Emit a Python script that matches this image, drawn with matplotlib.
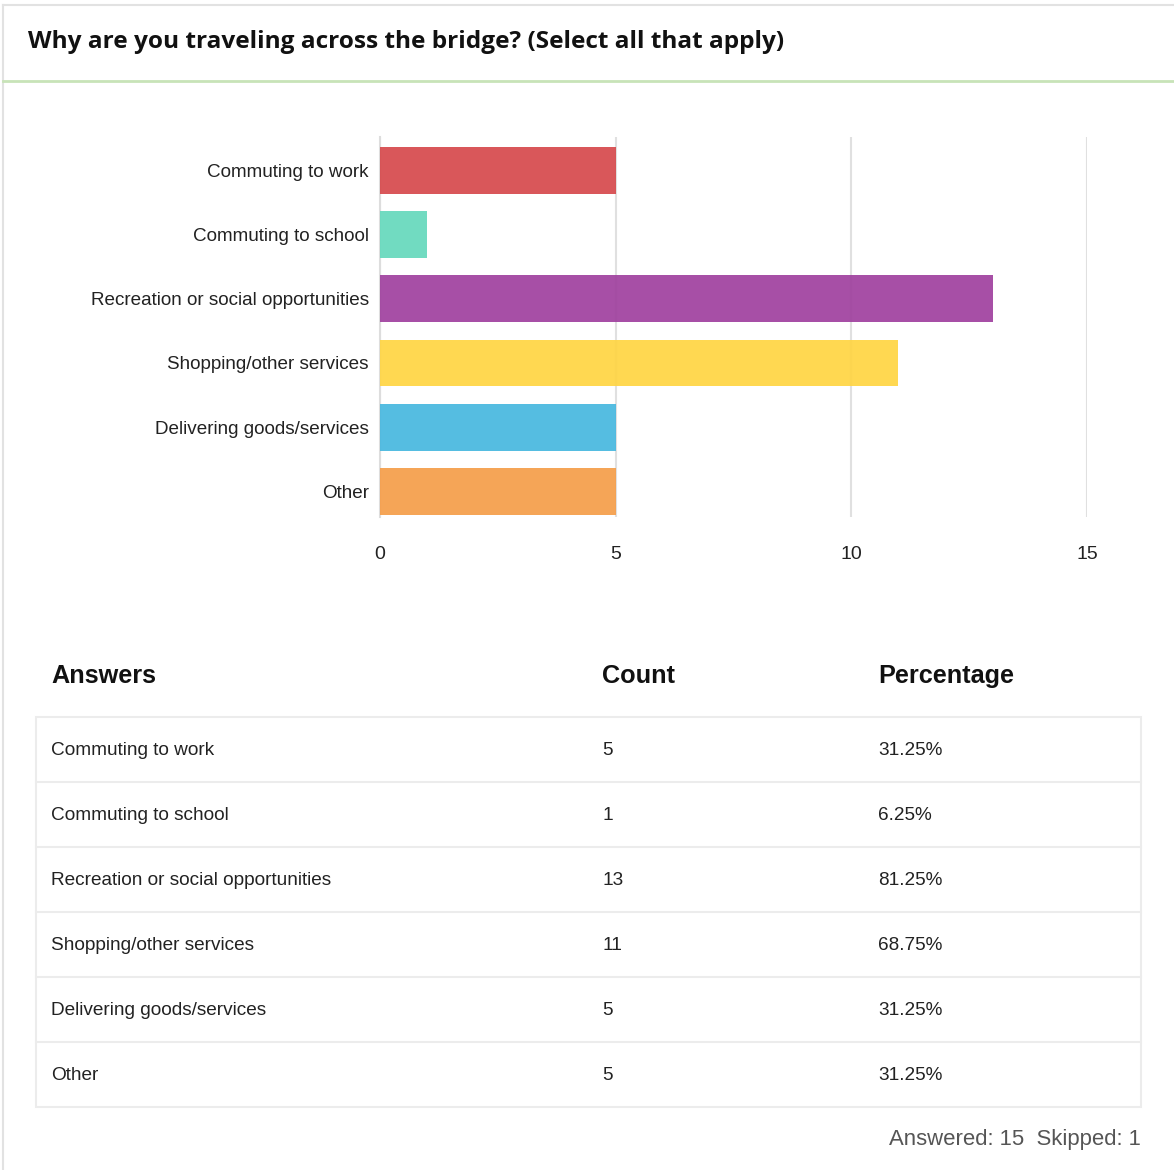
import matplotlib.pyplot as plt
from matplotlib.patches import Rectangle
from matplotlib.lines import Line2D

# data
answers = ['Commuting to work', 'Commuting to school', 'Recreation or social opportunities',
           'Shopping/other services', 'Delivering goods/services', 'Other']
counts = [5, 1, 13, 11, 5, 5]
percentages = ['31.25%', '6.25%', '81.25%', '68.75%', '31.25%', '31.25%']
colors = ['#d64a4d', '#66d9bd', '#a0429f', '#ffd544', '#48b8df', '#f59e4a']
x_ticks = [0, 5, 10, 15]
title = 'Why are you traveling across the bridge? (Select all that apply)'
answered, skipped = 15, 1

W, H = 1174, 1170
fig = plt.figure(figsize=(W / 100, H / 100), dpi=100)
fig.patch.set_facecolor('white')


def fx(px):
    return px / W


def fy(py):
    return 1 - py / H


# page frame and title header
fig.add_artist(Line2D([fx(3), fx(1174)], [fy(5), fy(5)], color='#e2e2e2', lw=1.5))
fig.add_artist(Line2D([fx(3), fx(3)], [fy(5), fy(1170)], color='#e2e2e2', lw=1.5))
fig.add_artist(Line2D([fx(3), fx(1174)], [fy(81), fy(81)], color='#c8e3b8', lw=2))
fig.text(fx(28), fy(42), title, fontsize=17.6, fontweight='bold', family='Open Sans',
         va='center', ha='left', color='#111111')

# bar chart
ax = fig.add_axes([fx(380), fy(517), fx(1087) - fx(380), (517 - 137) / H])
ypos = list(range(len(answers)))
ax.barh(ypos, counts, height=0.73, color=colors, alpha=0.93, zorder=3)
ax.set_xlim(0, 15)
ax.set_ylim(5.40, -0.52)
ax.set_xticks(x_ticks)
ax.set_yticks(ypos)
ax.set_yticklabels(answers, fontsize=13.6, family='Liberation Sans', color='#222222')
ax.set_xticklabels([str(t) for t in x_ticks], fontsize=14, family='Liberation Sans', color='#222222')
ax.tick_params(length=0, axis='y', pad=8)
ax.tick_params(length=0, axis='x', pad=21)
ax.grid(axis='x', color='#e0e0e0', lw=1.5, zorder=1)
ax.set_axisbelow(True)
for s in ['top', 'right', 'bottom']:
    ax.spines[s].set_visible(False)
ax.spines['left'].set_color('#dddddd')
ax.spines['left'].set_linewidth(1.5)

# table
hdr_y = fy(676)
hdr_kw = dict(fontsize=18.2, fontweight='bold', family='Liberation Sans', va='center', color='#111111')
fig.text(fx(51), hdr_y, 'Answers', **hdr_kw)
fig.text(fx(602), hdr_y, 'Count', **hdr_kw)
fig.text(fx(878), hdr_y, 'Percentage', **hdr_kw)

top, row_h = 717, 65
fig.add_artist(Rectangle((fx(36), fy(top + row_h * len(answers))), fx(1141) - fx(36),
                         row_h * len(answers) / H, fill=False, ec='#ececec', lw=1.5))
cell_kw = dict(fontsize=13.7, family='Liberation Sans', va='center', color='#222222')
for i, (a, c, p) in enumerate(zip(answers, counts, percentages)):
    yc = fy(top + row_h * i + row_h / 2 + 1)
    if i > 0:
        fig.add_artist(Line2D([fx(36), fx(1141)], [fy(top + row_h * i)] * 2, color='#ececec', lw=1.5))
    fig.text(fx(51), yc, a, **cell_kw)
    fig.text(fx(602), yc, str(c), **cell_kw)
    fig.text(fx(878), yc, p, **cell_kw)

fig.text(fx(1141), fy(1139), 'Answered: %d  Skipped: %d' % (answered, skipped), fontsize=15.9,
         family='Liberation Sans', ha='right', va='center', color='#555555')

fig.savefig('out.png', dpi=100)
